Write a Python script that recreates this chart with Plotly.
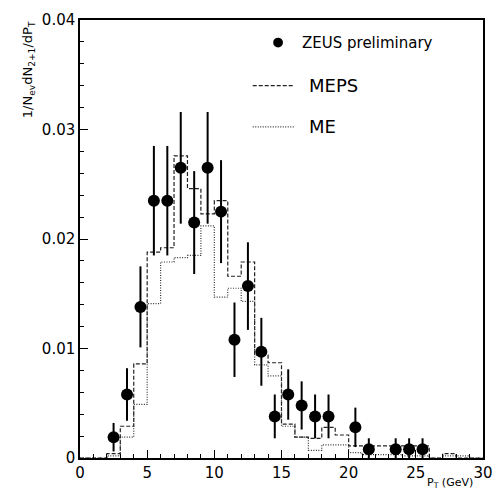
import plotly.graph_objects as go

# ---- data ----
bin_edges = list(range(0, 31))
meps = [0, 0, 0.0004, 0.0029, 0.0086, 0.0188, 0.0192, 0.0276, 0.0246, 0.0223,
        0.0235, 0.0166, 0.0179, 0.0094, 0.0087, 0.0031, 0.0019, 0.0018, 0.0028, 0.0021,
        0.0011, 0.0011, 0.0011, 0.0011, 0.0011, 0.0011, 0, 0.0004, 0, 0]
me = [0, 0, 0.0002, 0.0019, 0.0049, 0.0141, 0.0179, 0.0183, 0.0185, 0.0212,
      0.0147, 0.0155, 0.0143, 0.0085, 0.0075, 0.0029, 0.0019, 0.0007, 0.0012, 0.0012,
      0.0005, 0.0003, 0.0003, 0.0003, 0.0002, 0.0002, 0, 0.0002, 0.0002, 0]

zeus_x = [2.5, 3.5, 4.5, 5.5, 6.5, 7.5, 8.5, 9.5, 10.5, 11.5, 12.5, 13.5, 14.5,
          15.5, 16.5, 17.5, 18.5, 20.5, 21.5, 23.5, 24.5, 25.5]
zeus_y = [0.0019, 0.0058, 0.0138, 0.0235, 0.0235, 0.0265, 0.0215, 0.0265, 0.0225, 0.0108,
          0.0157, 0.0097, 0.0038, 0.0058, 0.0048, 0.0038, 0.0038, 0.0028, 0.0008,
          0.0008, 0.0008, 0.0008]
zeus_err = [0.0013, 0.0024, 0.0037, 0.0050, 0.0050, 0.0051, 0.0047, 0.0051, 0.0047, 0.0034,
            0.0040, 0.0031, 0.0020, 0.0023, 0.0022, 0.0020, 0.0020, 0.0018, 0.0010,
            0.0010, 0.0010, 0.0010]

x_ticks = [0, 5, 10, 15, 20, 25, 30]
y_ticks = [0, 0.01, 0.02, 0.03, 0.04]
y_tick_text = ["0", "0.01", "0.02", "0.03", "0.04"]

FONT = "DejaVu Sans"

fig = go.Figure()

fig.add_trace(go.Scatter(
    x=bin_edges, y=meps + [meps[-1]], mode="lines", line_shape="hv",
    line=dict(color="#222", width=1.2, dash="4px,2px"), showlegend=False))
fig.add_trace(go.Scatter(
    x=bin_edges, y=me + [me[-1]], mode="lines", line_shape="hv",
    line=dict(color="#333", width=1.2, dash="1px,1.5px"), showlegend=False))
fig.add_trace(go.Scatter(
    x=zeus_x, y=zeus_y, mode="markers",
    marker=dict(color="black", size=12, symbol="circle"),
    error_y=dict(type="data", array=zeus_err, visible=True, color="black",
                 thickness=2, width=0),
    showlegend=False))

fig.update_xaxes(range=[0, 30], tickvals=x_ticks, ticks="inside", ticklen=8,
                 tickwidth=1.2, tickcolor="black", showgrid=False, zeroline=False,
                 showline=True, linecolor="black", linewidth=1.5, mirror=True,
                 minor=dict(dtick=1, ticks="inside", ticklen=4, tickcolor="black"),
                 tickfont=dict(family=FONT, size=15, color="black"))
fig.update_yaxes(range=[0, 0.04], tickvals=y_ticks, ticktext=y_tick_text,
                 ticks="inside", ticklen=8,
                 tickwidth=1.2, tickcolor="black", showgrid=False, zeroline=False,
                 showline=True, linecolor="black", linewidth=1.5, mirror=True,
                 minor=dict(dtick=0.002, ticks="inside", ticklen=4, tickcolor="black"),
                 tickfont=dict(family=FONT, size=15, color="black"))

# manual legend
fig.add_shape(type="circle", xref="paper", yref="paper",
              x0=0.4915 - 5 / 413, x1=0.4915 + 5 / 413,
              y0=0.9485 - 5 / 447, y1=0.9485 + 5 / 447,
              fillcolor="black", line=dict(color="black", width=0))
fig.add_shape(type="line", xref="paper", yref="paper", x0=0.4286, x1=0.5327,
              y0=0.850, y1=0.850, line=dict(color="#222", width=1.2, dash="4px,2px"))
fig.add_shape(type="line", xref="paper", yref="paper", x0=0.4286, x1=0.5327,
              y0=0.756, y1=0.756, line=dict(color="#333", width=1.2, dash="1px,1.5px"))

ann = dict(xref="paper", yref="paper", showarrow=False, xanchor="left",
           yanchor="middle")
fig.add_annotation(x=0.545, y=0.9485, text="ZEUS preliminary",
                   font=dict(family=FONT, size=15, color="black"), **ann)
fig.add_annotation(x=0.564, y=0.850, text="MEPS",
                   font=dict(family=FONT, size=18, color="black"), **ann)
fig.add_annotation(x=0.564, y=0.756, text="ME",
                   font=dict(family=FONT, size=18, color="black"), **ann)

fig.add_annotation(xref="paper", yref="paper", x=-0.126, y=0.886, showarrow=False,
                   textangle=-90, xanchor="center", yanchor="middle",
                   text="1/N<sub>ev</sub>dN<sub>2+1</sub>/dP<sub>T</sub>",
                   font=dict(family=FONT, size=13, color="black"))
fig.add_annotation(xref="paper", yref="paper", x=0.918, y=-0.056, showarrow=False,
                   xanchor="center", yanchor="middle",
                   text="P<sub>T</sub> (GeV)",
                   font=dict(family=FONT, size=11, color="black"))

fig.update_layout(width=504, height=494, margin=dict(l=80, r=11, t=11, b=36),
                  plot_bgcolor="white", paper_bgcolor="white", showlegend=False)

fig.write_html("out.html")
